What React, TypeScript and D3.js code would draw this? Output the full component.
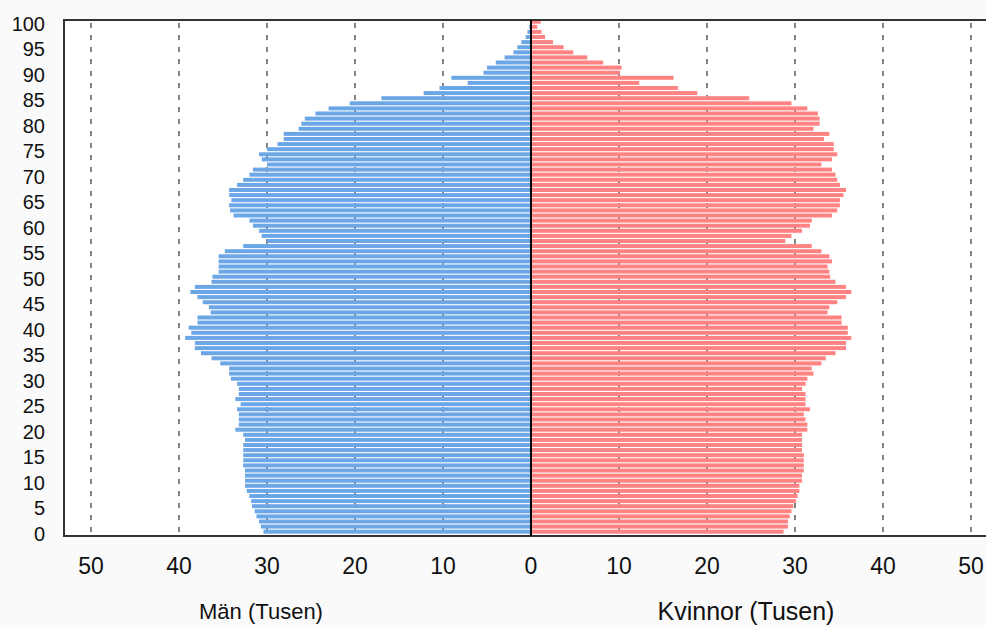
import * as d3 from "d3";

// ages 0..100, values in thousands
const ages = d3.range(0, 101);

const men = [
  30.4, 30.7, 30.9, 31.2, 31.4, 31.7, 31.8, 32.0, 32.3, 32.5,
  32.5, 32.5, 32.5, 32.7, 32.7, 32.7, 32.7, 32.7, 32.5, 32.7,
  33.6, 33.2, 33.2, 33.2, 33.4, 33.0, 33.6, 33.2, 33.2, 33.4,
  34.1, 34.3, 34.3, 35.3, 36.3, 37.5, 38.2, 38.2, 39.3, 38.6,
  38.9, 37.9, 37.9, 36.4, 36.6, 37.3, 37.9, 38.7, 38.2, 36.3,
  36.2, 35.5, 35.5, 35.5, 35.5, 34.8, 32.7, 30.0, 30.6, 30.9,
  31.6, 32.0, 33.8, 34.2, 34.3, 34.05, 34.3, 34.3, 33.4, 32.7,
  32.0, 31.6, 30.0, 30.6, 30.9, 30.0, 28.8, 28.1, 28.1, 26.4,
  26.1, 25.7, 24.5, 23.0, 20.6, 17.0, 12.2, 10.4, 7.2, 9.05,
  5.4, 5.0, 4.0, 3.0, 2.0, 1.55, 1.1, 0.6, 0.4, 0.2,
  0.1,
];

const women = [
  28.7, 29.2, 29.2, 29.4, 29.6, 29.8, 30.1, 30.3, 30.5, 30.5,
  30.8, 30.8, 31.0, 31.0, 31.0, 31.0, 30.8, 30.8, 30.8, 30.8,
  31.4, 31.4, 31.2, 31.0, 31.7, 31.2, 31.2, 31.2, 30.8, 31.2,
  31.4, 32.1, 31.9, 33.0, 33.5, 34.6, 35.8, 35.8, 36.4, 36.0,
  36.0, 35.3, 35.3, 33.7, 33.9, 34.8, 35.8, 36.4, 35.8, 34.6,
  34.0, 33.9, 33.7, 34.2, 33.9, 33.0, 31.9, 28.9, 29.6, 30.8,
  31.7, 31.9, 34.2, 34.8, 35.1, 35.1, 35.5, 35.8, 35.1, 34.8,
  34.6, 34.2, 33.0, 34.2, 34.8, 34.4, 34.4, 33.3, 33.9, 32.1,
  32.8, 32.8, 32.6, 31.4, 29.6, 24.8, 18.9, 16.7, 12.3, 16.2,
  10.1, 10.3, 8.2, 6.4, 4.8, 3.7, 2.5, 1.6, 1.2, 0.7,
  1.1,
];

const yTicks = d3.range(0, 101, 5);
const xTicks = [10, 20, 30, 40, 50];
const leftLabel = "Män (Tusen)";
const rightLabel = "Kvinnor (Tusen)";

const width = 986;
const height = 627;
const frameLeft = 64;
const frameTop = 20;
const frameBottom = 536;

export default function App() {
  const y = d3.scaleLinear().domain([0, 100]).range([531.7, 21.7]);
  const xl = d3.scaleLinear().domain([0, 50]).range([531, 91]);
  const xr = d3.scaleLinear().domain([0, 50]).range([531, 971]);
  const barH = 4;
  const font = "'Liberation Sans', Arial, sans-serif";

  return (
    <svg
      width={width}
      height={height}
      style={{ position: "absolute", left: 0, top: 0, display: "block" }}
    >
      <rect width={width} height={height} fill="#fafafa" />
      <rect
        x={frameLeft}
        y={frameTop}
        width={width - frameLeft}
        height={frameBottom - frameTop}
        fill="#fff"
      />

      {/* dashed grid */}
      <g stroke="#666" strokeWidth={1.6} strokeDasharray="5,7">
        {xTicks.map((v) => (
          <g key={v}>
            <line x1={xl(v)} x2={xl(v)} y1={23} y2={frameBottom} />
            <line x1={xr(v)} x2={xr(v)} y1={23} y2={frameBottom} />
          </g>
        ))}
      </g>

      {/* bars */}
      <g fill="#6ba6e6">
        {ages.map((a, i) => (
          <rect
            key={a}
            x={xl(men[i])}
            y={y(a) - barH / 2}
            width={xl(0) - xl(men[i])}
            height={barH}
          />
        ))}
      </g>
      <g fill="#ff8383">
        {ages.map((a, i) => (
          <rect
            key={a}
            x={xr(0)}
            y={y(a) - barH / 2}
            width={xr(women[i]) - xr(0)}
            height={barH}
          />
        ))}
      </g>

      {/* frame */}
      <g stroke="#333" strokeWidth={2} fill="none">
        <line x1={frameLeft} x2={width} y1={frameTop} y2={frameTop} />
        <line x1={frameLeft} x2={frameLeft} y1={frameTop - 1} y2={frameBottom + 1} />
        <line x1={frameLeft} x2={width} y1={frameBottom} y2={frameBottom} />
      </g>
      <line x1={xl(0)} x2={xl(0)} y1={frameTop} y2={frameBottom} stroke="#000" strokeWidth={2} />

      {/* y tick labels */}
      <g fontFamily={font} fontSize={20} fill="#111" textAnchor="end">
        {yTicks.map((a) => (
          <text key={a} x={45} y={y(a) + 2} dy="0.36em">
            {a}
          </text>
        ))}
      </g>

      {/* x tick labels */}
      <g fontFamily={font} fontSize={23} fill="#111" textAnchor="middle">
        {xTicks
          .slice()
          .reverse()
          .map((v) => (
            <text key={"l" + v} x={xl(v)} y={566} dy="0.36em">
              {v}
            </text>
          ))}
        <text x={xl(0)} y={566} dy="0.36em">0</text>
        {xTicks.map((v) => (
          <text key={"r" + v} x={xr(v)} y={566} dy="0.36em">
            {v}
          </text>
        ))}
      </g>

      <text x={261} y={619} fontFamily={font} fontSize={22} textAnchor="middle" fill="#111">
        {leftLabel}
      </text>
      <text x={746} y={620} fontFamily={font} fontSize={25} textAnchor="middle" fill="#111">
        {rightLabel}
      </text>
    </svg>
  );
}
